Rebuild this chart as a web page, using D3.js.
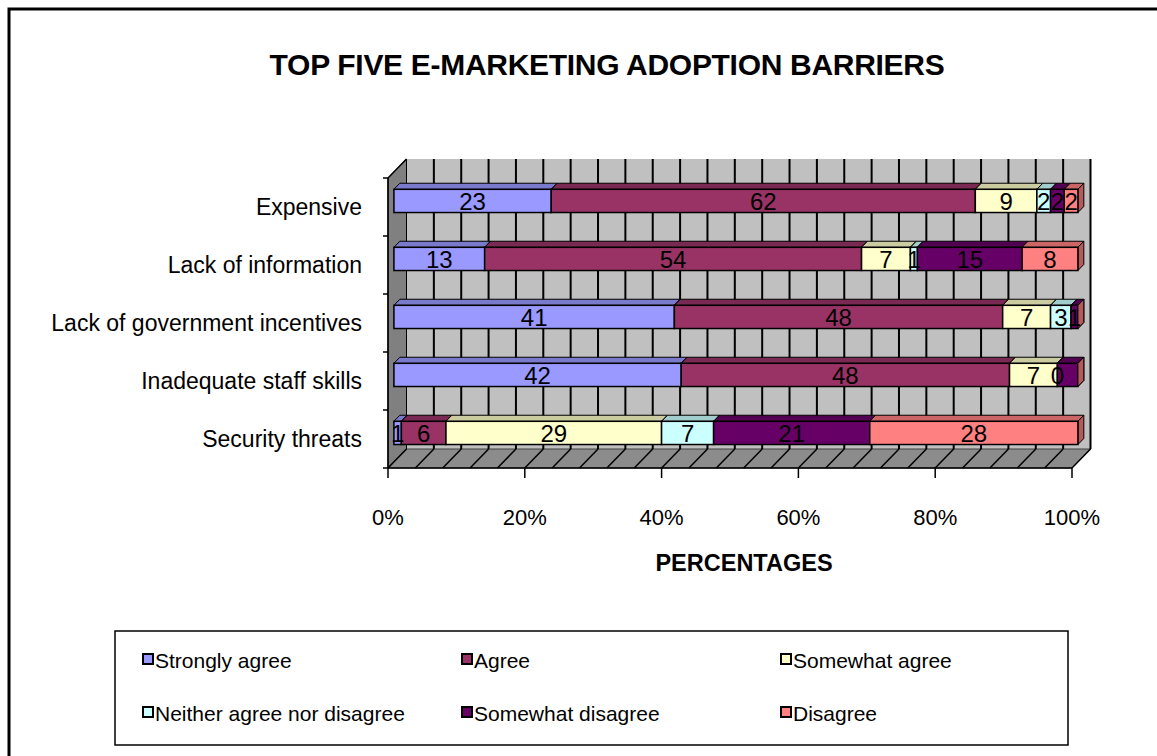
<!DOCTYPE html>
<html>
<head>
<meta charset="utf-8">
<script src="https://cdn.jsdelivr.net/npm/d3@7"></script>
<style>
  body { margin: 0; background: #fff; }
  text { font-family: "Liberation Sans", Arial, sans-serif; fill: #000; }
</style>
</head>
<body>
<svg id="chart" width="1157" height="756"></svg>
<script>
// data, one array per series, categories from top to bottom
var categories = ["Expensive", "Lack of information", "Lack of government incentives", "Inadequate staff skills", "Security threats"];
var seriesNames = ["Strongly agree", "Agree", "Somewhat agree", "Neither agree nor disagree", "Somewhat disagree", "Disagree"];
var seriesColors = ["#9999FF", "#993366", "#FFFFCC", "#CCFFFF", "#660066", "#FF8080"];
var stronglyAgree = [23, 13, 41, 42, 1];
var agree = [62, 54, 48, 48, 6];
var somewhatAgree = [9, 7, 7, 7, 29];
var neither = [2, 1, 3, 0, 7];
var somewhatDisagree = [2, 15, 1, 3, 21];
var disagree = [2, 8, 0, 0, 28];
var hiddenLabels = [
  ["Lack of government incentives", "Disagree"],
  ["Inadequate staff skills", "Somewhat disagree"],
  ["Inadequate staff skills", "Disagree"]
];
var xTicks = [0, 0.2, 0.4, 0.6, 0.8, 1];

var seriesValues = [stronglyAgree, agree, somewhatAgree, neither, somewhatDisagree, disagree];
var rows = categories.map(function (c, i) {
  var r = { category: c };
  seriesNames.forEach(function (s, j) { r[s] = seriesValues[j][i]; });
  return r;
});
var stacked = d3.stack().keys(seriesNames).offset(d3.stackOffsetExpand)(rows);

var svg = d3.select("#chart");
var DX = 18.5, DY = -19;          // full depth of the 3d box
var barF0 = 0.32, barF1 = 0.64;   // depth slice used by the bars

var x = d3.scaleLinear().domain([0, 1]).range([388, 1072]);
var y = d3.scaleBand().domain(categories).range([178, 468]);
var barH = y.bandwidth() * 0.4;

function pt(px, py, f) { return [px + f * DX, py + f * DY]; }
function poly(pts) { return "M" + pts.map(function (p) { return p[0] + "," + p[1]; }).join("L") + "Z"; }
function shade(c, k) {
  var r = d3.rgb(c);
  return d3.rgb(r.r * k, r.g * k, r.b * k).formatHex();
}

// outer frame
svg.append("rect").attr("x", 9).attr("y", 9).attr("width", 1170).attr("height", 770)
  .attr("fill", "none").attr("stroke", "#000").attr("stroke-width", 3);

// title
svg.append("text").attr("x", 607).attr("y", 75).attr("text-anchor", "middle")
  .style("font-size", "30px").style("font-weight", "bold").style("letter-spacing", "-0.3px")
  .text("TOP FIVE E-MARKETING ADOPTION BARRIERS");

var x0 = x(0), x1 = x(1), yTop = y.range()[0], yBot = y.range()[1];

// back wall
svg.append("path").attr("d", poly([pt(x0, yTop, 1), pt(x1, yTop, 1), pt(x1, yBot, 1), pt(x0, yBot, 1)]))
  .attr("fill", "#C0C0C0");
// left wall
svg.append("path").attr("d", poly([pt(x0, yTop, 0), pt(x0, yTop, 1), pt(x0, yBot, 1), pt(x0, yBot, 0)]))
  .attr("fill", "#808080").attr("stroke", "#000").attr("stroke-width", 1);
// floor
svg.append("path").attr("d", poly([pt(x0, yBot, 0), pt(x0, yBot, 1), pt(x1, yBot, 1), pt(x1, yBot, 0)]))
  .attr("fill", "#8C8C8C").attr("stroke", "#404040").attr("stroke-width", 1);

// gridlines every 4% on wall and floor
var grid = d3.range(0, 1.0001, 0.04);
svg.append("g").selectAll("line").data(grid.slice(1)).join("line")
  .attr("x1", function (d) { return pt(x(d), yTop, 1)[0]; })
  .attr("x2", function (d) { return pt(x(d), yBot, 1)[0]; })
  .attr("y1", pt(0, yTop, 1)[1]).attr("y2", pt(0, yBot, 1)[1])
  .attr("stroke", "#000").attr("stroke-width", 2);
svg.append("g").selectAll("line").data(grid).join("line")
  .attr("x1", function (d) { return x(d); }).attr("y1", yBot)
  .attr("x2", function (d) { return pt(x(d), yBot, 1)[0]; }).attr("y2", pt(0, yBot, 1)[1])
  .attr("stroke", "#000").attr("stroke-width", 1.5);

// axis lines and ticks
svg.append("line").attr("x1", x0).attr("x2", x0).attr("y1", yTop).attr("y2", yBot).attr("stroke", "#000").attr("stroke-width", 1.5);
svg.append("line").attr("x1", x0).attr("x2", x1).attr("y1", yBot).attr("y2", yBot).attr("stroke", "#000").attr("stroke-width", 1.5);
svg.append("line").attr("x1", x0).attr("y1", yTop).attr("x2", pt(x0, yTop, 1)[0]).attr("y2", pt(x0, yTop, 1)[1]).attr("stroke", "#000").attr("stroke-width", 1.5);
svg.append("g").selectAll("line").data(y.domain().map(function (c) { return y(c); }).concat([yBot])).join("line")
  .attr("x1", x0 - 5).attr("x2", x0).attr("y1", function (d) { return d; }).attr("y2", function (d) { return d; })
  .attr("stroke", "#000").attr("stroke-width", 1.5);
svg.append("g").selectAll("line").data(xTicks).join("line")
  .attr("x1", function (d) { return x(d); }).attr("x2", function (d) { return x(d); })
  .attr("y1", yBot).attr("y2", yBot + 10).attr("stroke", "#000").attr("stroke-width", 1.5);

// bars
var bars = svg.append("g");
stacked.forEach(function (layer, j) {
  var col = seriesColors[j];
  layer.forEach(function (seg, i) {
    var cat = categories[i];
    var yc = y(cat) + y.bandwidth() / 2;
    var ya = yc - barH / 2, yb = yc + barH / 2;
    var xa = x(seg[0]), xb = x(seg[1]);
    var g = bars.append("g");
    // top face
    g.append("path").attr("d", poly([pt(xa, ya, barF0), pt(xb, ya, barF0), pt(xb, ya, barF1), pt(xa, ya, barF1)]))
      .attr("fill", shade(col, 0.8)).attr("stroke", "#000").attr("stroke-width", 1);
    // end face
    g.append("path").attr("d", poly([pt(xb, ya, barF0), pt(xb, ya, barF1), pt(xb, yb, barF1), pt(xb, yb, barF0)]))
      .attr("fill", shade(col, 0.7)).attr("stroke", "#000").attr("stroke-width", 1);
    // front face
    var p0 = pt(xa, ya, barF0), p1 = pt(xb, yb, barF0);
    g.append("rect").attr("x", p0[0]).attr("y", p0[1]).attr("width", p1[0] - p0[0]).attr("height", p1[1] - p0[1])
      .attr("fill", col).attr("stroke", "#000").attr("stroke-width", 1.5);
  });
});

// value labels
var labels = svg.append("g");
stacked.forEach(function (layer, j) {
  layer.forEach(function (seg, i) {
    var cat = categories[i];
    var hidden = hiddenLabels.some(function (h) { return h[0] === cat && h[1] === seriesNames[j]; });
    if (hidden) return;
    var yc = y(cat) + y.bandwidth() / 2;
    var p = pt((x(seg[0]) + x(seg[1])) / 2, yc, barF0);
    labels.append("text").attr("x", p[0]).attr("y", p[1] + 9).attr("text-anchor", "middle")
      .style("font-size", "24px").text(seriesValues[j][i]);
  });
});

// category labels
svg.append("g").selectAll("text").data(categories).join("text")
  .attr("x", 362).attr("y", function (d) { return y(d) + y.bandwidth() / 2 + 8; })
  .attr("text-anchor", "end").style("font-size", "23px")
  .text(function (d) { return d; });

// value axis labels
svg.append("g").selectAll("text").data(xTicks).join("text")
  .attr("x", function (d) { return x(d); }).attr("y", 525).attr("text-anchor", "middle")
  .style("font-size", "22px").text(d3.format(".0%"));
svg.append("text").attr("x", 744).attr("y", 571).attr("text-anchor", "middle")
  .style("font-size", "23.5px").style("font-weight", "bold").text("PERCENTAGES");

// legend
svg.append("rect").attr("x", 115).attr("y", 631).attr("width", 953).attr("height", 114)
  .attr("fill", "#fff").attr("stroke", "#000").attr("stroke-width", 1.5);
var legendCols = [143, 462, 781], legendRows = [660, 713];
var items = svg.append("g").selectAll("g").data(seriesNames).join("g")
  .attr("transform", function (d, i) { return "translate(" + legendCols[i % 3] + "," + legendRows[Math.floor(i / 3)] + ")"; });
items.append("rect").attr("x", 0).attr("y", -6).attr("width", 10).attr("height", 10)
  .attr("fill", function (d, i) { return seriesColors[i]; }).attr("stroke", "#000").attr("stroke-width", 2);
items.append("text").attr("x", 12).attr("y", 8).style("font-size", "21px").text(function (d) { return d; });
</script>
</body>
</html>
